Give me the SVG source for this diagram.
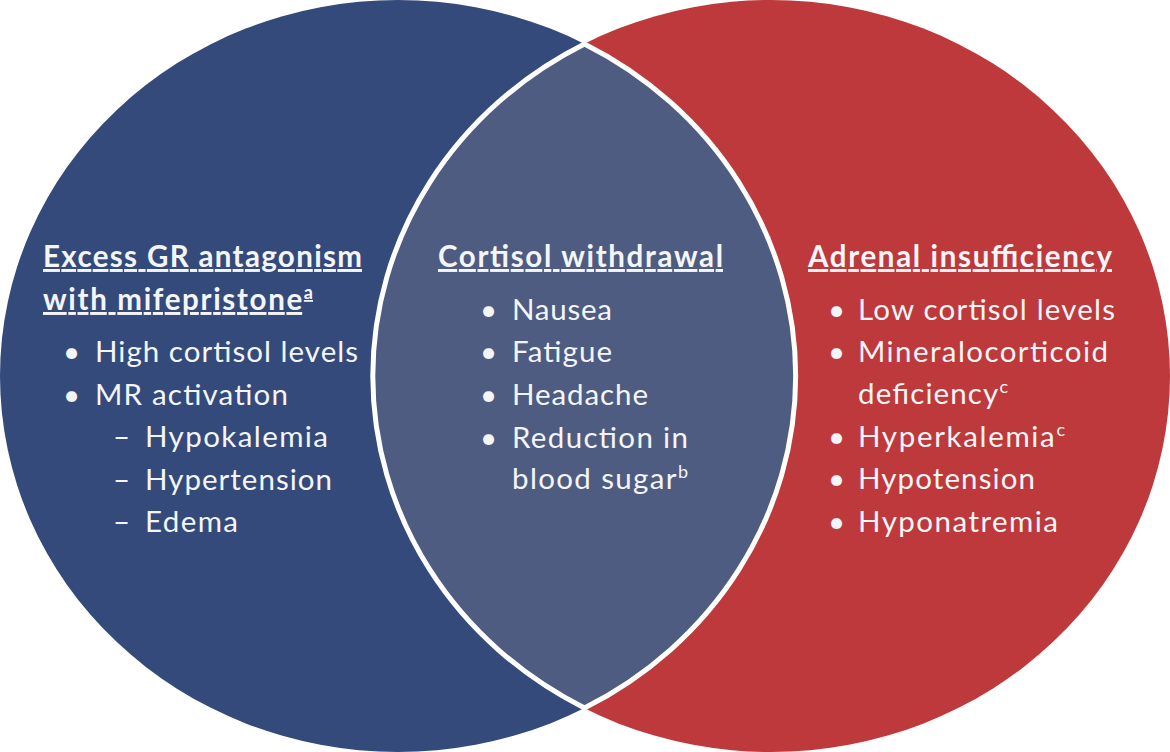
<svg xmlns="http://www.w3.org/2000/svg" width="1170" height="752" viewBox="0 0 1170 752">
<style>
text{font-family:Lato,"Open Sans","Liberation Sans",sans-serif;fill:#F4F5F8;}
.h{font-weight:700;font-size:29.5px;text-decoration:underline;}
.t{font-size:29.5px;}
.sup{font-size:18px;}
</style>
<rect width="1170" height="752" fill="#FFFFFF"/>
<g id="adrenal-insufficiency">
<ellipse cx="771" cy="376" rx="399" ry="376" fill="#BE393B"/>
</g>
<g id="excess-gr-antagonism">
<ellipse cx="398" cy="376" rx="398" ry="376" fill="#344A7B"/>
</g>
<g id="cortisol-withdrawal">
<path d="M584.5,44 A398,376 0 0 1 584.5,708 A399,376 0 0 1 584.5,44 Z" fill="#4E5C81" stroke="#FFFFFF" stroke-width="5"/>
</g>
<g id="left-text">
<text class="h" x="43" y="267" textLength="319" lengthAdjust="spacing">Excess GR antagonism</text>
<text class="h" x="43" y="310" textLength="270" lengthAdjust="spacing">with mifepristone<tspan class="sup" dy="-11">a</tspan></text>
<text class="t" x="63" y="362">•</text><text class="t" x="95" y="362" textLength="263" lengthAdjust="spacing">High cortisol levels</text>
<text class="t" x="63" y="405">•</text><text class="t" x="95" y="405" textLength="193" lengthAdjust="spacing">MR activation</text>
<text class="t" x="113" y="447">–</text><text class="t" x="145" y="447" textLength="183" lengthAdjust="spacing">Hypokalemia</text>
<text class="t" x="113" y="490">–</text><text class="t" x="145" y="490" textLength="187" lengthAdjust="spacing">Hypertension</text>
<text class="t" x="113" y="532">–</text><text class="t" x="145" y="532" textLength="93" lengthAdjust="spacing">Edema</text>
</g>
<g id="center-text">
<text class="h" x="438" y="267" textLength="285" lengthAdjust="spacing">Cortisol  withdrawal</text>
<text class="t" x="480" y="320">•</text><text class="t" x="512" y="320" textLength="100" lengthAdjust="spacing">Nausea</text>
<text class="t" x="480" y="362">•</text><text class="t" x="512" y="362" textLength="100" lengthAdjust="spacing">Fatigue</text>
<text class="t" x="480" y="405">•</text><text class="t" x="512" y="405" textLength="136" lengthAdjust="spacing">Headache</text>
<text class="t" x="480" y="448">•</text><text class="t" x="512" y="448" textLength="176" lengthAdjust="spacing">Reduction in</text>
<text class="t" x="512" y="489" textLength="176" lengthAdjust="spacing">blood sugar<tspan class="sup" dy="-11">b</tspan></text>
</g>
<g id="right-text">
<text class="h" x="808" y="267" textLength="304" lengthAdjust="spacing">Adrenal  insufficiency</text>
<text class="t" x="828" y="320">•</text><text class="t" x="858" y="320" textLength="257" lengthAdjust="spacing">Low cortisol levels</text>
<text class="t" x="828" y="362">•</text><text class="t" x="858" y="362" textLength="250" lengthAdjust="spacing">Mineralocorticoid</text>
<text class="t" x="858" y="404" textLength="150" lengthAdjust="spacing">deficiency<tspan class="sup" dy="-11">c</tspan></text>
<text class="t" x="828" y="447">•</text><text class="t" x="858" y="447" textLength="207" lengthAdjust="spacing">Hyperkalemia<tspan class="sup" dy="-11">c</tspan></text>
<text class="t" x="828" y="489">•</text><text class="t" x="858" y="489" textLength="177" lengthAdjust="spacing">Hypotension</text>
<text class="t" x="828" y="532">•</text><text class="t" x="858" y="532" textLength="200" lengthAdjust="spacing">Hyponatremia</text>
</g>
</svg>
